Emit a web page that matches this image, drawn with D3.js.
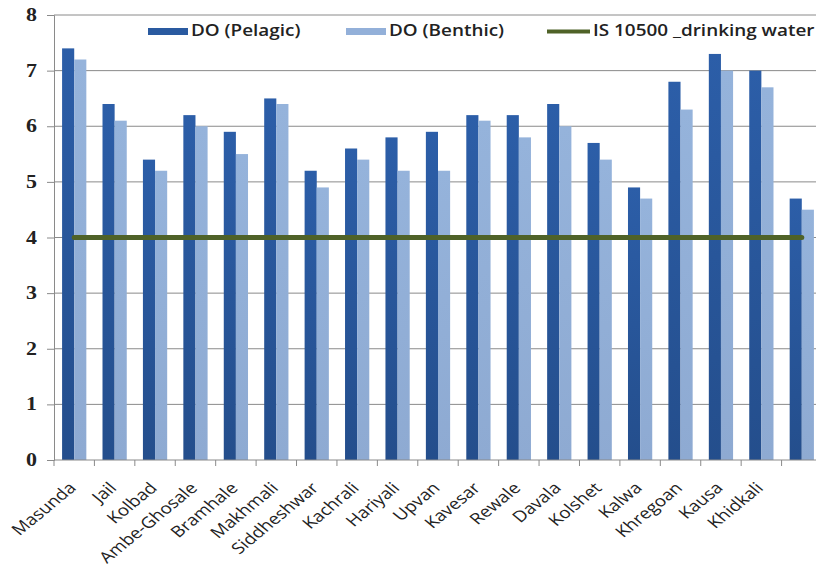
<!DOCTYPE html>
<html>
<head>
<meta charset="utf-8">
<script src="https://cdn.jsdelivr.net/npm/d3@7"></script>
<style>
  html, body { margin: 0; padding: 0; background: #fff; }
  svg { display: block; }
</style>
</head>
<body>
<svg id="chart" width="816" height="571"></svg>
<script>
// Sampling stations (the last group has no name on the axis)
const stations = ["Masunda", "Jail", "Kolbad", "Ambe-Ghosale", "Bramhale", "Makhmali",
  "Siddheshwar", "Kachrali", "Hariyali", "Upvan", "Kavesar", "Rewale", "Davala",
  "Kolshet", "Kalwa", "Khregoan", "Kausa", "Khidkali", ""];

// Dissolved oxygen, mg/L
const doPelagic = [7.4, 6.4, 5.4, 6.2, 5.9, 6.5, 5.2, 5.6, 5.8, 5.9, 6.2, 6.2, 6.4, 5.7, 4.9, 6.8, 7.3, 7.0, 4.7];
const doBenthic = [7.2, 6.1, 5.2, 6.0, 5.5, 6.4, 4.9, 5.4, 5.2, 5.2, 6.1, 5.8, 6.0, 5.4, 4.7, 6.3, 7.0, 6.7, 4.5];

// IS 10500 drinking water limit
const drinkingLimit = 4;

const seriesNames = ["DO (Pelagic)", "DO (Benthic)", "IS 10500 _drinking water"];
const yTicks = [0, 1, 2, 3, 4, 5, 6, 7, 8];

const svg = d3.select("#chart");
const plot = { left: 54, right: 822, top: 15, bottom: 460 };
const gridColor = "#8a8a8a";
const wide = 1.22; // horizontal stretch applied to all text

const x0 = d3.scaleBand().domain(stations).range([plot.left, plot.right]).paddingInner(0.4).paddingOuter(0.2);
const x1 = d3.scaleBand().domain(["pelagic", "benthic"]).range([0, x0.bandwidth()]);
const y = d3.scaleLinear().domain([0, 8]).range([plot.bottom, plot.top]);

// gradients for the bar fills
const defs = svg.append("defs");
function grad(id, c1, c2) {
  const g = defs.append("linearGradient").attr("id", id).attr("x1", 0).attr("x2", 0).attr("y1", 0).attr("y2", 1);
  g.append("stop").attr("offset", "0%").attr("stop-color", c1);
  g.append("stop").attr("offset", "100%").attr("stop-color", c2);
}
grad("gDark", "#2c5ea8", "#244e8c");
grad("gLight", "#95b3db", "#8eaad2");

// horizontal gridlines
svg.append("g").selectAll("line").data(yTicks.filter(d => d > 0)).join("line")
  .attr("x1", plot.left).attr("x2", plot.right)
  .attr("y1", d => y(d)).attr("y2", d => y(d))
  .attr("stroke", gridColor).attr("stroke-width", 1);

// y axis (labels redrawn below so they can be widened)
const yAxis = svg.append("g").attr("transform", `translate(${plot.left},0)`)
  .call(d3.axisLeft(y).tickValues(yTicks).tickSize(7).tickFormat(""));
yAxis.select(".domain").attr("stroke", gridColor);
yAxis.selectAll(".tick line").attr("stroke", gridColor);
svg.append("g").selectAll("text").data(yTicks).join("text")
  .attr("transform", d => `translate(${plot.left - 17},${y(d)}) scale(${wide},1)`)
  .attr("dy", "0.34em").attr("text-anchor", "end")
  .attr("font-family", "'Liberation Serif', serif").attr("font-weight", "bold")
  .attr("font-size", 18).attr("fill", "#222")
  .text(d3.format("d"));

// bars
const groups = svg.append("g").selectAll("g").data(stations).join("g")
  .attr("transform", d => `translate(${x0(d)},0)`);
groups.append("rect")
  .attr("x", x1("pelagic")).attr("width", x1.bandwidth())
  .attr("y", (d, i) => y(doPelagic[i])).attr("height", (d, i) => y(0) - y(doPelagic[i]))
  .attr("fill", "url(#gDark)");
groups.append("rect")
  .attr("x", x1("benthic")).attr("width", x1.bandwidth())
  .attr("y", (d, i) => y(doBenthic[i])).attr("height", (d, i) => y(0) - y(doBenthic[i]))
  .attr("fill", "url(#gLight)");

// x axis with ticks at category boundaries
const xg = svg.append("g");
xg.append("line").attr("x1", plot.left).attr("x2", plot.right).attr("y1", plot.bottom).attr("y2", plot.bottom)
  .attr("stroke", gridColor);
const step = x0.step();
xg.selectAll("line.tk").data(d3.range(stations.length + 1)).join("line").attr("class", "tk")
  .attr("x1", i => plot.left + i * step).attr("x2", i => plot.left + i * step)
  .attr("y1", plot.bottom).attr("y2", plot.bottom + 6).attr("stroke", gridColor);
xg.selectAll("text").data(stations).join("text")
  .attr("transform", d => `translate(${x0(d) + x0.bandwidth() / 2 + 3},${plot.bottom + 29}) scale(${wide},1) rotate(-45)`)
  .attr("text-anchor", "end")
  .attr("font-family", "'Open Sans', sans-serif").attr("font-size", 15.5).attr("fill", "#222")
  .text(d => d);

// drinking water limit line
const firstC = x0(stations[0]) + x0.bandwidth() / 2;
const lastC = x0(stations[stations.length - 1]) + x0.bandwidth() / 2;
svg.append("line")
  .attr("x1", firstC).attr("x2", lastC).attr("y1", y(drinkingLimit)).attr("y2", y(drinkingLimit))
  .attr("stroke", "#4f6228").attr("stroke-width", 5).attr("stroke-linecap", "round");

// legend
const legend = svg.append("g").attr("font-family", "'Open Sans', sans-serif")
  .attr("font-weight", 600).attr("font-size", 15.5).attr("fill", "#222");
function legendText(x, label) {
  legend.append("text").attr("transform", `translate(${x},36) scale(${wide},1)`).text(label);
}
legend.append("rect").attr("x", 148).attr("y", 28).attr("width", 40).attr("height", 7).attr("fill", "#2a5aa0");
legendText(191, seriesNames[0]);
legend.append("rect").attr("x", 346).attr("y", 28).attr("width", 40).attr("height", 7).attr("fill", "#93b0d9");
legendText(389, seriesNames[1]);
legend.append("line").attr("x1", 547).attr("x2", 590).attr("y1", 31.5).attr("y2", 31.5)
  .attr("stroke", "#4f6228").attr("stroke-width", 4);
legendText(593, seriesNames[2]);
</script>
</body>
</html>
